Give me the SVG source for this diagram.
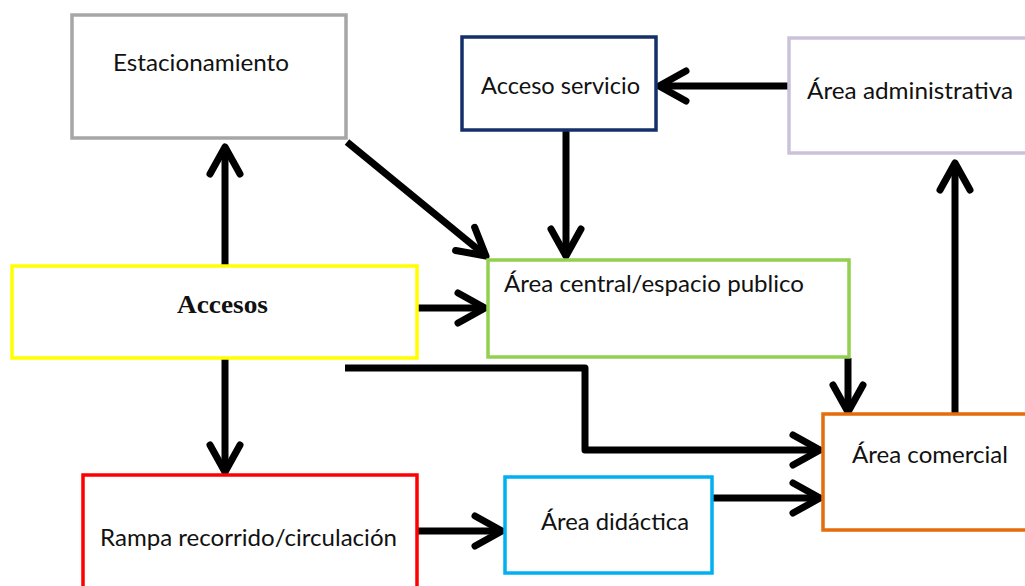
<svg xmlns="http://www.w3.org/2000/svg" width="1025" height="586" viewBox="0 0 1025 586">
<style>
.box{fill:#fff;stroke-width:3.5}
.lbl{font-family:Lato,"Open Sans","Liberation Sans",sans-serif;font-size:23px;fill:#111}
.bold{font-family:"Liberation Serif","Times New Roman",serif;font-size:25px;font-weight:bold;fill:#111}
.con{fill:none;stroke:#000;stroke-width:7;stroke-linejoin:round}
</style>
<defs>
<marker id="arr" markerUnits="userSpaceOnUse" markerWidth="40" markerHeight="40" viewBox="-34 -20 40 40" refX="0" refY="0" orient="auto">
<path d="M-27,-15 L0,0 L-27,15" fill="none" stroke="#000" stroke-width="7" stroke-linecap="round" stroke-linejoin="round"/>
</marker>
</defs>
<rect width="1025" height="586" fill="#fff"/>
<g id="connectors">
<path class="con" d="M225,266 L225,147" marker-end="url(#arr)"/>
<path class="con" d="M347,142 L486,256" marker-end="url(#arr)"/>
<path class="con" d="M566,131 L566,256" marker-end="url(#arr)"/>
<path class="con" d="M789,86 L659,86" marker-end="url(#arr)"/>
<path class="con" d="M417,308 L485,308" marker-end="url(#arr)"/>
<path class="con" d="M225,358 L225,472" marker-end="url(#arr)"/>
<path class="con" d="M345,368 L585,368 L585,450 L820,450" marker-end="url(#arr)"/>
<path class="con" d="M848,358 L848,412" marker-end="url(#arr)"/>
<path class="con" d="M955,414 L955,163" marker-end="url(#arr)"/>
<path class="con" d="M417,531 L502,531" marker-end="url(#arr)"/>
<path class="con" d="M713,498 L820,498" marker-end="url(#arr)"/>
</g>
<g id="estacionamiento">
<rect class="box" x="72" y="15" width="274" height="123" stroke="#a6a6a6" stroke-width="4"/>
<text class="lbl" x="113" y="71" textLength="176" lengthAdjust="spacingAndGlyphs">Estacionamiento</text>
</g>
<g id="acceso-servicio">
<rect class="box" x="462" y="37" width="194" height="93" stroke="#13306a"/>
<text class="lbl" x="481" y="94" textLength="159" lengthAdjust="spacingAndGlyphs">Acceso servicio</text>
</g>
<g id="area-administrativa">
<rect class="box" x="789" y="38" width="245" height="115" stroke="#ccc1da"/>
<text class="lbl" x="807" y="99" textLength="206" lengthAdjust="spacingAndGlyphs">Área administrativa</text>
</g>
<g id="accesos">
<rect class="box" x="12" y="266" width="405" height="92" stroke="#ffff00"/>
<text class="bold" x="177" y="313" textLength="91" lengthAdjust="spacingAndGlyphs">Accesos</text>
</g>
<g id="area-central">
<rect class="box" x="488" y="260" width="361" height="97" stroke="#92d050"/>
<text class="lbl" x="504" y="292" textLength="300" lengthAdjust="spacingAndGlyphs">Área central/espacio publico</text>
</g>
<g id="area-comercial">
<rect class="box" x="823" y="414" width="215" height="116" stroke="#e46c0a"/>
<text class="lbl" x="852" y="463" textLength="156" lengthAdjust="spacingAndGlyphs">Área comercial</text>
</g>
<g id="rampa">
<rect class="box" x="83" y="475" width="334" height="125" stroke="#ff0000"/>
<text class="lbl" x="100" y="546" textLength="297" lengthAdjust="spacingAndGlyphs">Rampa recorrido/circulación</text>
</g>
<g id="area-didactica">
<rect class="box" x="505" y="477" width="207" height="96" stroke="#00b0f0"/>
<text class="lbl" x="541" y="530" textLength="148" lengthAdjust="spacingAndGlyphs">Área didáctica</text>
</g>
</svg>
